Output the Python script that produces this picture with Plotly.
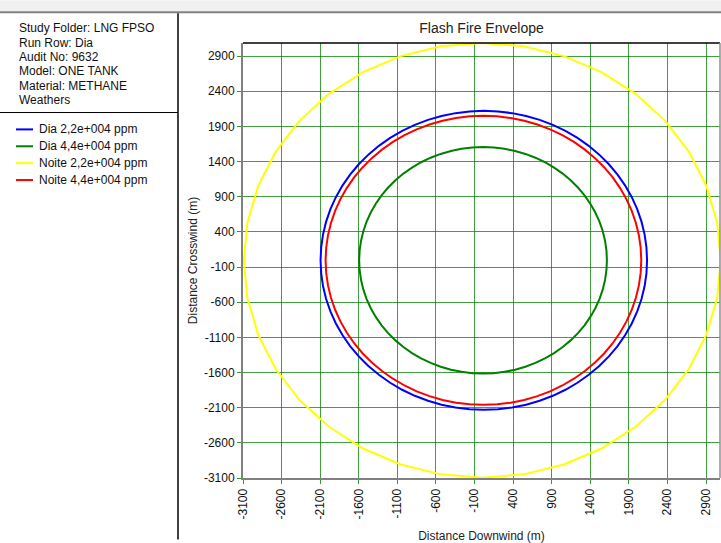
import numpy as np
import plotly.graph_objects as go

# ---- data ----
series_names = ["Dia 2,2e+004 ppm", "Dia 4,4e+004 ppm", "Noite 2,2e+004 ppm", "Noite 4,4e+004 ppm"]
series_colors = ["#0000ff", "#008000", "#ffff00", "#ff0000"]
radius_x = [2115, 1605, 3090, 2045]      # half-width (m)
radius_y = [2125, 1610, 3090, 2055]      # half-height (m)
center_x = [20, 10, 0, 15]
center_y = [-5, -5, -5, -5]
segments = [72, 72, 36, 72]

info_lines = ["Study Folder: LNG FPSO", "Run Row: Dia", "Audit No: 9632",
              "Model: ONE TANK", "Material: METHANE", "Weathers"]
tick_vals = [-3100, -2600, -2100, -1600, -1100, -600, -100, 400, 900, 1400, 1900, 2400, 2900]
tick_text = [str(v) for v in tick_vals]

W, H = 721, 543
L, R, T, B = 243, 720, 43, 481
pw, ph = R - L, B - T

def xp(px):
    return (px - L) / pw

def yp(py):
    return (B - py) / ph

fig = go.Figure()
draw_order = [2, 0, 3, 1]
for i in draw_order:
    th = np.linspace(0, 2 * np.pi, segments[i] + 1)
    fig.add_trace(go.Scatter(
        x=center_x[i] + radius_x[i] * np.cos(th),
        y=center_y[i] + radius_y[i] * np.sin(th),
        mode="lines", name=series_names[i],
        line=dict(color=series_colors[i], width=2),
        showlegend=False, hoverinfo="skip"))

font = "Liberation Sans, Arial, sans-serif"
axis_common = dict(
    tickmode="array", tickvals=tick_vals, ticktext=tick_text,
    showgrid=True, gridcolor="rgba(0,128,0,0.75)", gridwidth=1.4,
    zeroline=False, ticks="outside", ticklen=4, tickcolor="#2e9a2e", tickwidth=1,
    showline=True, linecolor="#808080", linewidth=2,
    tickfont=dict(family=font, size=12, color="#111"),
)
fig.update_xaxes(range=[-3100, 3080], tickangle=-90,
                 title=dict(text="Distance Downwind (m)", font=dict(family=font, size=12, color="#222"), standoff=14),
                 **axis_common)
fig.update_yaxes(range=[-3100, 3085],
                 title=dict(text="Distance Crosswind (m)", font=dict(family=font, size=12, color="#222"), standoff=4),
                 **axis_common)

shapes = []
# plot frame: top black, right gray
shapes.append(dict(type="line", xref="paper", yref="paper", x0=0, x1=1, y0=1, y1=1,
                   line=dict(color="#000000", width=1.5)))
shapes.append(dict(type="line", xref="paper", yref="paper", x0=1, x1=1, y0=0, y1=1,
                   line=dict(color="#909090", width=1.5)))
# top toolbar strip
shapes.append(dict(type="rect", xref="paper", yref="paper", x0=xp(0), x1=xp(W), y0=yp(0), y1=yp(11),
                   fillcolor="#f0f0f0", line=dict(width=0), layer="below"))
shapes.append(dict(type="line", xref="paper", yref="paper", x0=xp(0), x1=xp(W), y0=yp(12), y1=yp(12),
                   line=dict(color="#808080", width=2)))
# left panel separators
shapes.append(dict(type="line", xref="paper", yref="paper", x0=xp(178), x1=xp(178), y0=yp(13), y1=yp(H),
                   line=dict(color="#000000", width=1.5)))
shapes.append(dict(type="line", xref="paper", yref="paper", x0=xp(0), x1=xp(178), y0=yp(113), y1=yp(113),
                   line=dict(color="#000000", width=1)))

annotations = []
for k, txt in enumerate(info_lines):
    annotations.append(dict(text=txt, xref="paper", yref="paper", x=xp(17), y=yp(28 + k * 14.5),
                            xanchor="left", yanchor="middle", showarrow=False,
                            font=dict(family=font, size=12, color="#111")))
legend_order = [0, 1, 2, 3]
for k, i in enumerate(legend_order):
    ypix = 130 + k * 17
    shapes.append(dict(type="line", xref="paper", yref="paper", x0=xp(16), x1=xp(33), y0=yp(ypix), y1=yp(ypix),
                       line=dict(color=series_colors[i], width=2)))
    annotations.append(dict(text=series_names[i], xref="paper", yref="paper", x=xp(37), y=yp(ypix),
                            xanchor="left", yanchor="middle", showarrow=False,
                            font=dict(family=font, size=12, color="#111")))

fig.update_layout(
    width=W, height=H,
    margin=dict(l=L, r=W - R, t=T, b=H - B, pad=0),
    paper_bgcolor="white", plot_bgcolor="white",
    title=dict(text="Flash Fire Envelope", x=(L + pw / 2) / W, xanchor="center",
               y=1 - 28 / H, yanchor="middle", font=dict(family=font, size=14, color="#222")),
    shapes=shapes, annotations=annotations, showlegend=False,
)

fig.write_html("out.html", config={"displayModeBar": False},
               post_script="document.body.style.margin='0px';document.body.style.overflow='hidden';")
